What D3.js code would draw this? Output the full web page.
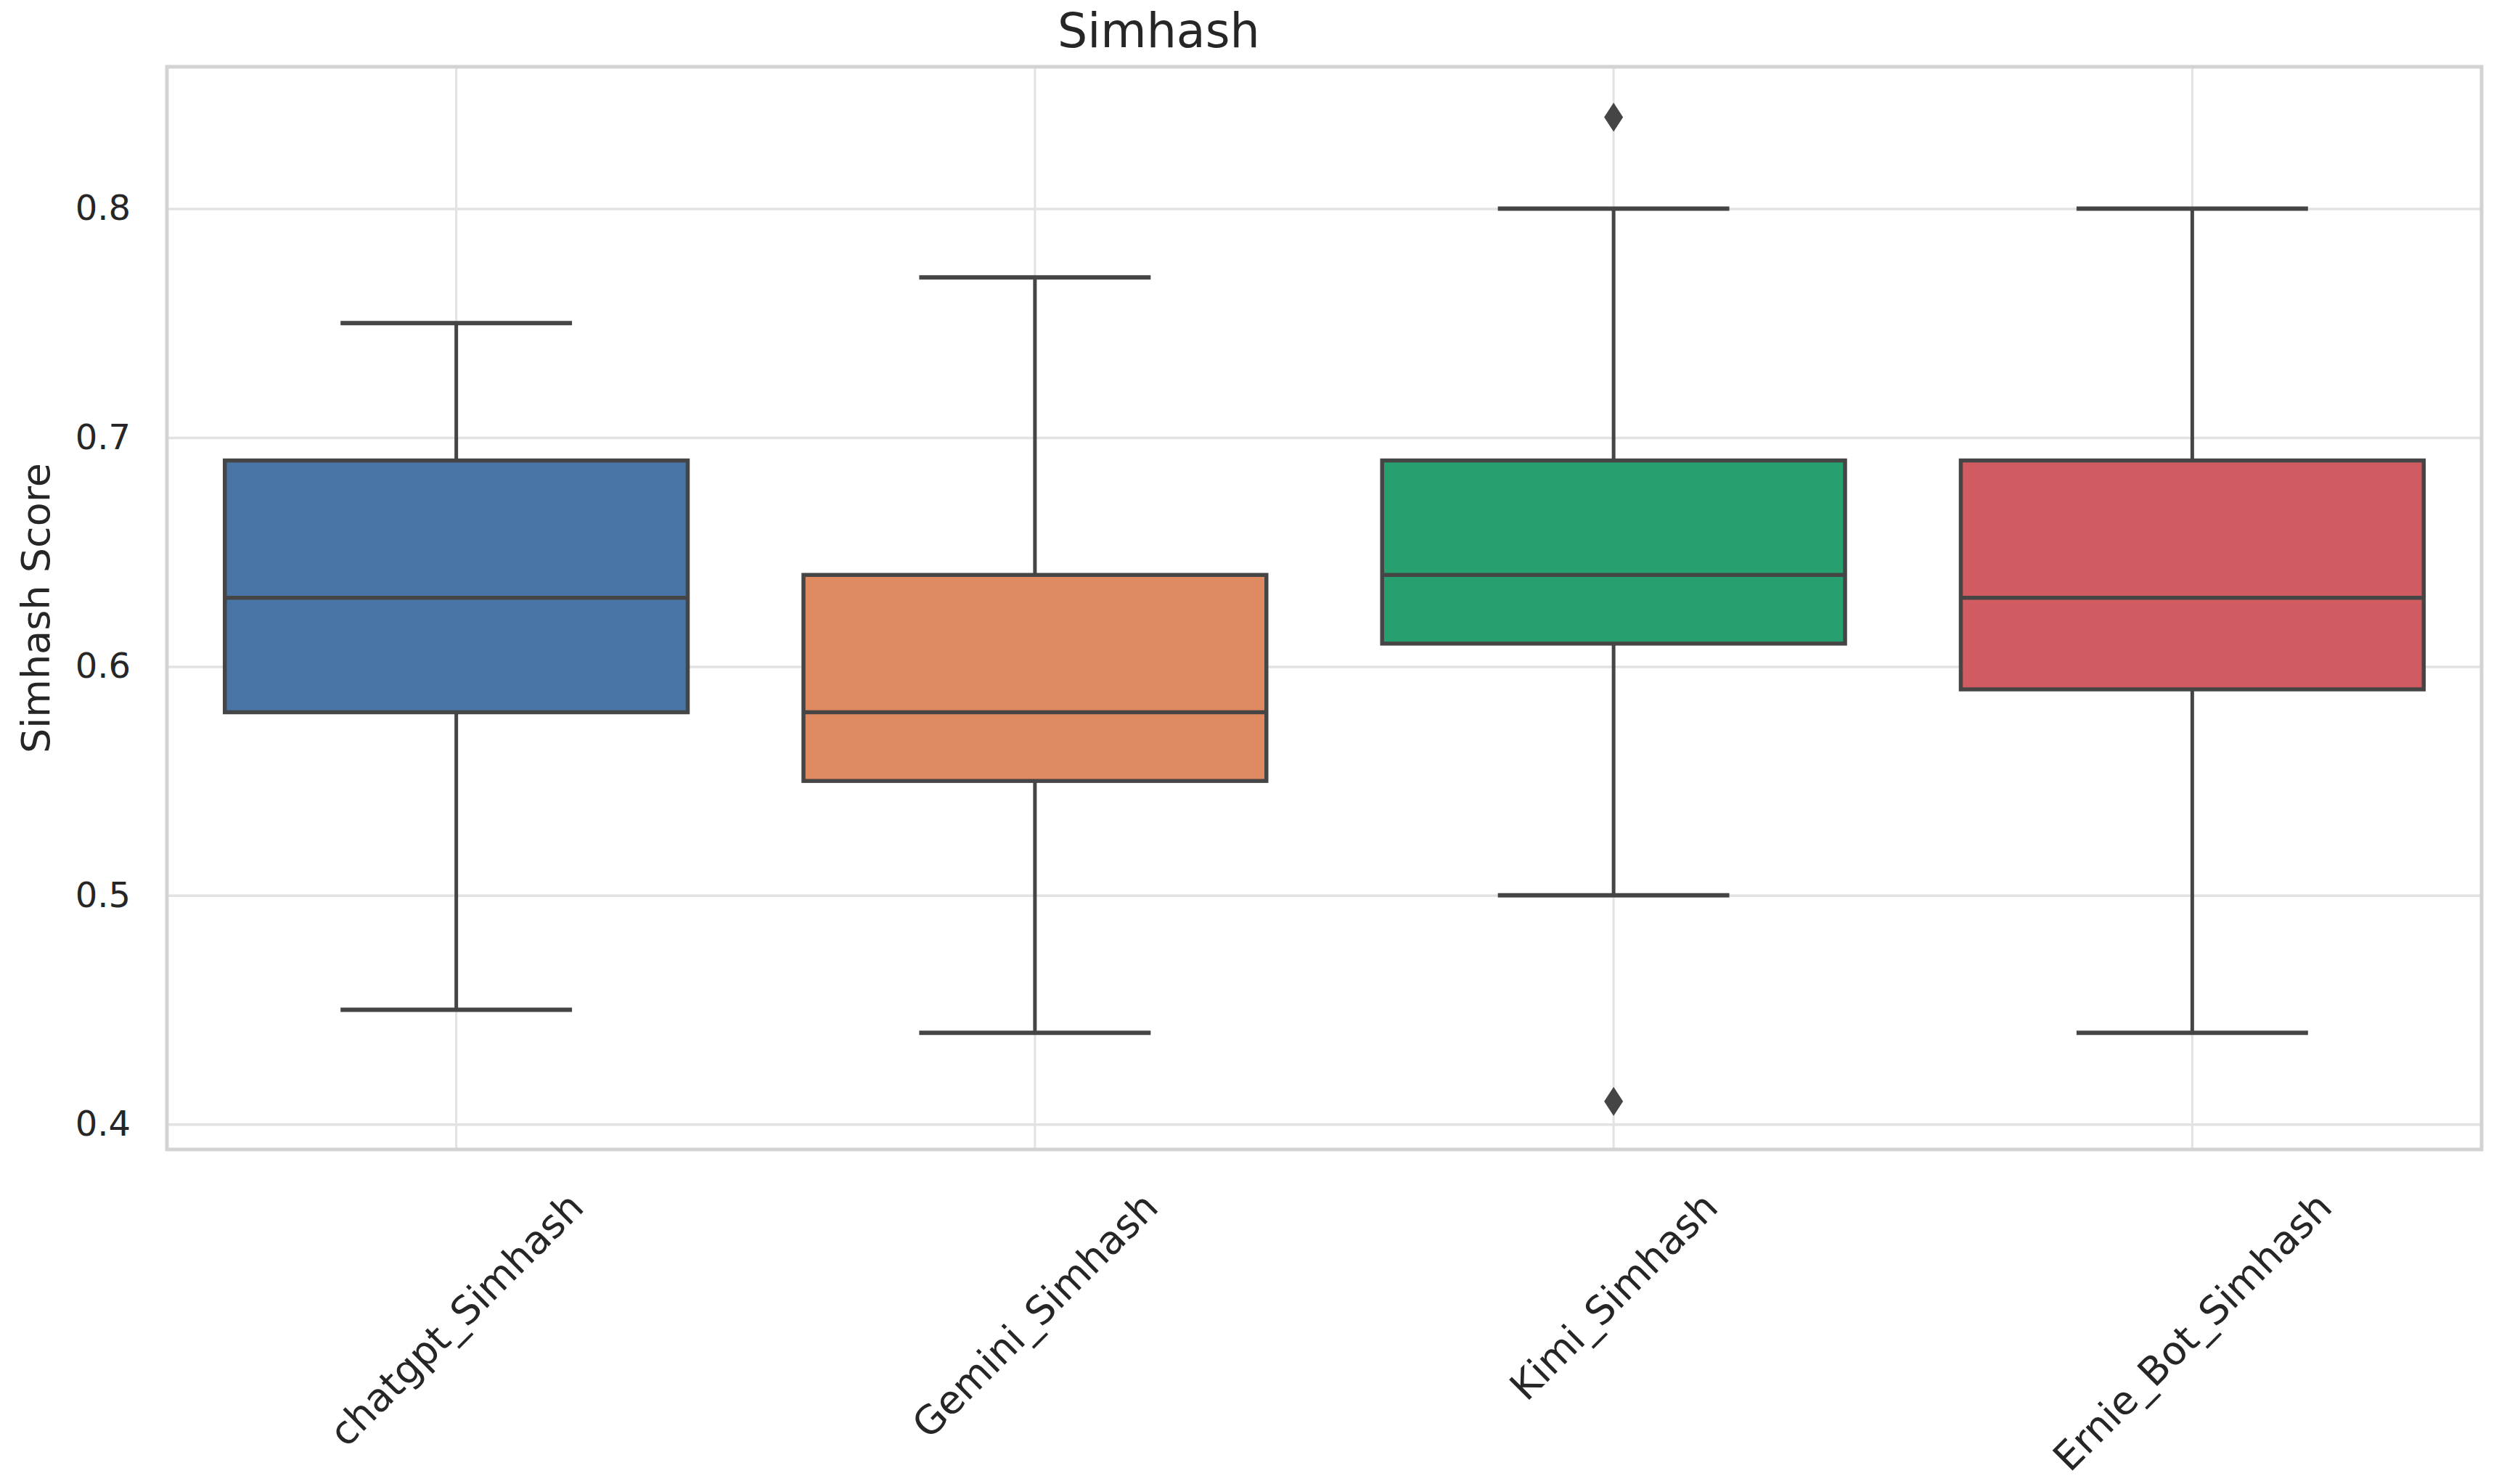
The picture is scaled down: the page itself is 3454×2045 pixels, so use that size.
<!DOCTYPE html>
<html>
<head>
<meta charset="utf-8">
<script src="https://cdn.jsdelivr.net/npm/d3@7"></script>
<style>
  body { margin: 0; background: #ffffff; }
  text { font-family: "DejaVu Sans", sans-serif; fill: #262626; }
</style>
</head>
<body>
<div id="chart"></div>
<script>
// Simhash box plot (seaborn-like whitegrid look)

const categories = ["chatgpt_Simhash", "Gemini_Simhash", "Kimi_Simhash", "Ernie_Bot_Simhash"];
const whiskerLow  = [0.45, 0.44, 0.50, 0.44];
const q1Values    = [0.58, 0.55, 0.61, 0.59];
const medians     = [0.63, 0.58, 0.64, 0.63];
const q3Values    = [0.69, 0.64, 0.69, 0.69];
const whiskerHigh = [0.75, 0.77, 0.80, 0.80];
const outliers    = [[], [], [0.84, 0.41], []];
const colors      = ["#4874a6", "#e08a62", "#25a06e", "#d05c61"];
const yTicks      = [0.4, 0.5, 0.6, 0.7, 0.8];

const width = 3454;
const height = 2045;
const plot = { left: 230, right: 3419, top: 92, bottom: 1584 };
const xFont = 54;

const svg = d3.select("#chart")
    .append("svg")
    .attr("width", width)
    .attr("height", height);

svg.append("rect")
    .attr("width", width)
    .attr("height", height)
    .attr("fill", "#ffffff");

const x = d3.scaleBand()
    .domain(categories)
    .range([plot.left, plot.right])
    .padding(0);

const y = d3.scaleLinear()
    .domain([0.389, 0.862])
    .range([plot.bottom, plot.top]);

// grid lines
svg.append("g")
    .attr("transform", `translate(${plot.left},0)`)
    .call(d3.axisLeft(y).tickValues(yTicks).tickSize(-(plot.right - plot.left)).tickFormat(""))
    .call(g => g.select(".domain").remove())
    .call(g => g.selectAll("line").attr("stroke", "#e2e2e2").attr("stroke-width", 3.5));

svg.append("g")
    .attr("transform", `translate(0,${plot.bottom})`)
    .call(d3.axisBottom(x).tickSize(-(plot.bottom - plot.top)).tickFormat(""))
    .call(g => g.select(".domain").remove())
    .call(g => g.selectAll("line").attr("stroke", "#e2e2e2").attr("stroke-width", 3));

// y tick labels
svg.append("g")
    .attr("transform", `translate(${plot.left},0)`)
    .call(d3.axisLeft(y).tickValues(yTicks).tickSize(0).tickPadding(50).tickFormat(d3.format(".1f")))
    .call(g => g.select(".domain").remove())
    .call(g => g.selectAll("text").attr("font-size", 48).attr("font-family", "DejaVu Sans").attr("fill", "#262626"));

// x tick labels, rotated 45 degrees around their centre
const xAxis = svg.append("g")
    .attr("transform", `translate(0,${plot.bottom})`)
    .call(d3.axisBottom(x).tickSize(0).tickPadding(0))
    .call(g => g.select(".domain").remove());

xAxis.selectAll("text")
    .attr("font-size", xFont)
    .attr("font-family", "DejaVu Sans")
    .attr("fill", "#262626")
    .attr("text-anchor", "middle")
    .attr("y", 0)
    .attr("dy", "0.35em")
    .each(function() {
        const len = this.getComputedTextLength();
        const half = (len + xFont) * Math.SQRT1_2 / 2;
        d3.select(this).attr("transform", `translate(0,${50 + half}) rotate(-45)`);
    });

// plot frame (spines)
svg.append("rect")
    .attr("x", plot.left)
    .attr("y", plot.top)
    .attr("width", plot.right - plot.left)
    .attr("height", plot.bottom - plot.top)
    .attr("fill", "none")
    .attr("stroke", "#d3d3d3")
    .attr("stroke-width", 5);

// boxes
const boxW = x.bandwidth() * 0.8;
const capW = boxW / 2;
const lineColor = "#454545";

const boxes = svg.append("g")
    .selectAll("g")
    .data(categories.map((c, i) => ({
        cat: c, lo: whiskerLow[i], q1: q1Values[i], med: medians[i],
        q3: q3Values[i], hi: whiskerHigh[i], out: outliers[i], color: colors[i]
    })))
    .enter()
    .append("g");

const cx = d => x(d.cat) + x.bandwidth() / 2;

// whiskers
boxes.append("line")
    .attr("x1", cx).attr("x2", cx)
    .attr("y1", d => y(d.q3)).attr("y2", d => y(d.hi))
    .attr("stroke", lineColor).attr("stroke-width", 5);
boxes.append("line")
    .attr("x1", cx).attr("x2", cx)
    .attr("y1", d => y(d.q1)).attr("y2", d => y(d.lo))
    .attr("stroke", lineColor).attr("stroke-width", 5);

// caps
boxes.append("line")
    .attr("x1", d => cx(d) - capW / 2).attr("x2", d => cx(d) + capW / 2)
    .attr("y1", d => y(d.hi)).attr("y2", d => y(d.hi))
    .attr("stroke", lineColor).attr("stroke-width", 6);
boxes.append("line")
    .attr("x1", d => cx(d) - capW / 2).attr("x2", d => cx(d) + capW / 2)
    .attr("y1", d => y(d.lo)).attr("y2", d => y(d.lo))
    .attr("stroke", lineColor).attr("stroke-width", 6);

// box
boxes.append("rect")
    .attr("x", d => cx(d) - boxW / 2)
    .attr("y", d => y(d.q3))
    .attr("width", boxW)
    .attr("height", d => y(d.q1) - y(d.q3))
    .attr("fill", d => d.color)
    .attr("stroke", lineColor)
    .attr("stroke-width", 5.5);

// median
boxes.append("line")
    .attr("x1", d => cx(d) - boxW / 2).attr("x2", d => cx(d) + boxW / 2)
    .attr("y1", d => y(d.med)).attr("y2", d => y(d.med))
    .attr("stroke", lineColor).attr("stroke-width", 5.5);

// outliers as thin diamonds
boxes.selectAll("path.outlier")
    .data(d => d.out.map(v => ({ v, c: cx(d) })))
    .enter()
    .append("path")
    .attr("class", "outlier")
    .attr("d", d => `M${d.c},${y(d.v) - 20} L${d.c + 13},${y(d.v)} L${d.c},${y(d.v) + 20} L${d.c - 13},${y(d.v)} Z`)
    .attr("fill", lineColor);

// title
svg.append("text")
    .attr("x", 1457)
    .attr("y", 65)
    .attr("font-size", 65)
    .text("Simhash");

// y label
svg.append("text")
    .attr("transform", `translate(68,${(plot.top + plot.bottom) / 2}) rotate(-90)`)
    .attr("text-anchor", "middle")
    .attr("font-size", 54)
    .text("Simhash Score");
</script>
</body>
</html>
